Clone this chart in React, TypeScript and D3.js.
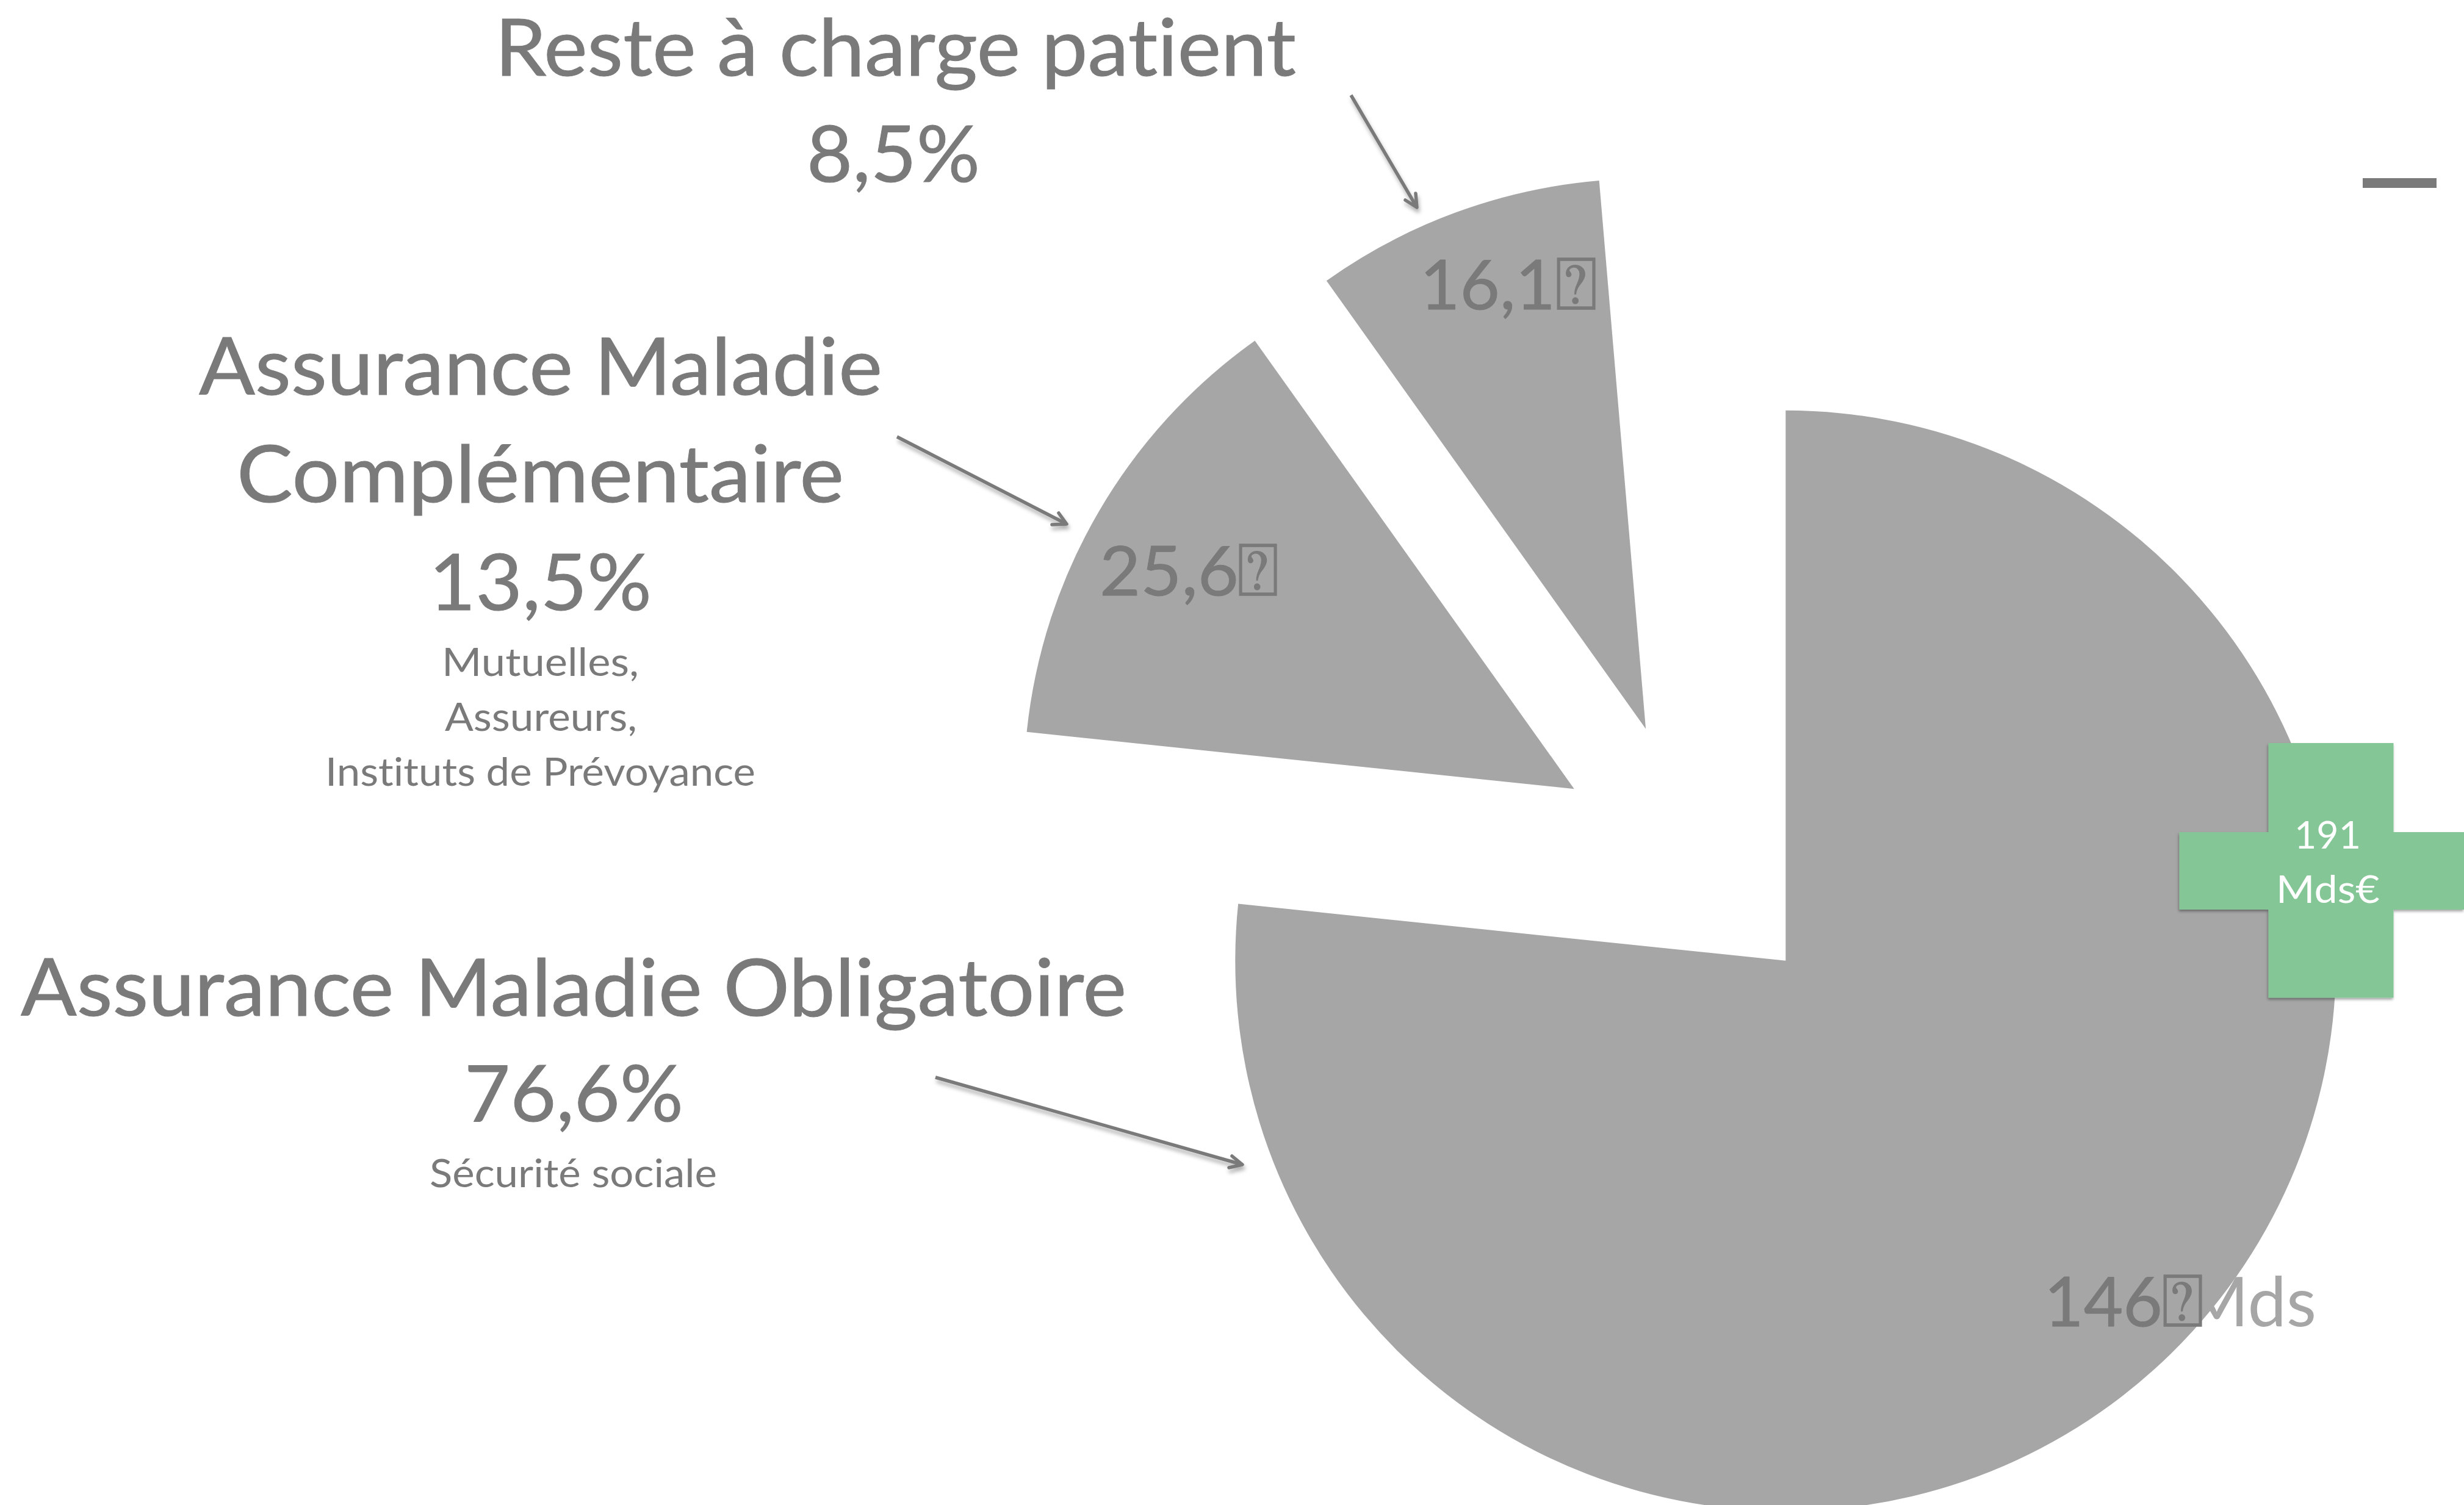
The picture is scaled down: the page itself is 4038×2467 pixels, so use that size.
import React from "react";
import * as d3 from "d3";

// ---- data ----
const sliceNames = ["Assurance Maladie Obligatoire", "Assurance Maladie Complémentaire", "Reste à charge patient", "Autres"];
const sliceShares = [76.65, 13.5, 8.5, 1.35];
const sliceFills = ["#a6a6a6", "#a6a6a6", "#a6a6a6", "#ffffff"];
const totalLines = ["191", "Mds€"];
const missingGlyph = "⍰";

// ---- layout ----
const W = 4038;
const H = 2467;
const CX = 2775;
const CY = 1407;
const R = 902;
const EXPLODE = 226;
const GREY = "#7a7a7a";
const PIE = "#a6a6a6";
const FONT = "Lato, 'Open Sans', sans-serif";
const BOX = "'DejaVu Sans'";

type T = { t: string; x0: number; x1: number; y: number; s: number; fill?: string; font?: string; w?: number };

const labels: T[] = [
  { t: "Mds", x0: 3580, x1: 3796, y: 2174, s: 113, fill: PIE },
  { t: "Reste à charge patient", x0: 811, x1: 2124, y: 124, s: 130, w: 1 },
  { t: "8,5%", x0: 1322, x1: 1606, y: 298, s: 128, w: 1 },
  { t: "Assurance Maladie", x0: 326, x1: 1446, y: 647, s: 130, w: 1 },
  { t: "Complémentaire", x0: 388, x1: 1383, y: 823, s: 130, w: 1 },
  { t: "13,5%", x0: 703, x1: 1068, y: 1000, s: 128, w: 1 },
  { t: "Mutuelles,", x0: 724, x1: 1047, y: 1108, s: 64 },
  { t: "Assureurs,", x0: 729, x1: 1044, y: 1198, s: 64 },
  { t: "Instituts de Prévoyance", x0: 533, x1: 1238, y: 1288, s: 64 },
  { t: "Assurance Maladie Obligatoire", x0: 34, x1: 1846, y: 1665, s: 130, w: 1 },
  { t: "76,6%", x0: 761, x1: 1120, y: 1838, s: 128, w: 1 },
  { t: "Sécurité sociale", x0: 704, x1: 1175, y: 1946, s: 64 },
  { t: "25,6", x0: 1802, x1: 2030, y: 976, s: 113, w: 1 },
  { t: missingGlyph, x0: 2027, x1: 2096, y: 976, s: 122, font: BOX, w: 1.5 },
  { t: "16,1", x0: 2327, x1: 2549, y: 507, s: 113, w: 1 },
  { t: missingGlyph, x0: 2548, x1: 2618, y: 507, s: 122, font: BOX, w: 1.5 },
  { t: "146", x0: 3350, x1: 3544, y: 2174, s: 113, w: 1 },
  { t: missingGlyph, x0: 3542, x1: 3612, y: 2174, s: 122, font: BOX, w: 1.5 },
  { t: totalLines[0], x0: 3760, x1: 3869, y: 1391, s: 62, fill: "#ffffff" },
  { t: totalLines[1], x0: 3730, x1: 3900, y: 1480, s: 62, fill: "#ffffff" },
];

const arrows: [number, number, number, number, number, number, number, number][] = [
  [2214, 156, 2322, 340, 2303, 328, 2320, 317],
  [1470, 716, 1748, 859, 1735, 841, 1724, 860],
  [1533, 1766, 2036, 1909, 2019, 1895, 2014, 1914],
];

const App = () => {
  const pie = d3.pie<number>().sort(null).value((d) => d);
  const arc = d3.arc<d3.PieArcDatum<number>>().innerRadius(0).outerRadius(R);
  const arcs = pie(sliceShares);

  const line = d3.line();

  return (
    <svg
      width={W}
      height={H}
      viewBox={`0 0 ${W} ${H}`}
      style={{ position: "absolute", left: 0, top: 0, display: "block", background: "#fff" }}
    >
      <defs>
        <filter id="lineShadow" x="-20%" y="-20%" width="140%" height="140%">
          <feDropShadow dx="2" dy="6" stdDeviation="3" floodColor="#000" floodOpacity="0.3" />
        </filter>
        <filter id="crossShadow" x="-5%" y="-5%" width="110%" height="110%">
          <feDropShadow dx="-1" dy="3" stdDeviation="2" floodColor="#000" floodOpacity="0.35" />
        </filter>
      </defs>

      <g>
        {arcs.map((d, i) => {
          const mid = (d.startAngle + d.endAngle) / 2;
          const dx = EXPLODE * Math.sin(mid);
          const dy = -EXPLODE * Math.cos(mid);
          return (
            <path
              key={sliceNames[i]}
              d={arc(d) as string}
              transform={`translate(${CX + dx},${CY + dy})`}
              fill={sliceFills[i]}
            >
              <title>{sliceNames[i]}</title>
            </path>
          );
        })}
      </g>

      <path
        d="M3717.5 1218H3922.5V1364H4038V1491H3922.5V1635.5H3717.5V1491H3571.5V1364H3717.5Z"
        fill="#85c696"
        filter="url(#crossShadow)"
      />

      <rect x={3872} y={292} width={121} height={16} fill={GREY} />

      <g fill="none" stroke={GREY} strokeWidth={5.5} strokeLinecap="round" strokeLinejoin="round" filter="url(#lineShadow)">
        {arrows.map((a, i) => (
          <g key={i}>
            <path d={line([[a[0], a[1]], [a[2], a[3]]]) as string} strokeLinecap="butt" />
            <path d={line([[a[4], a[5]], [a[2], a[3]], [a[6], a[7]]]) as string} />
          </g>
        ))}
      </g>

      <g style={{ fontVariantLigatures: "none" }}>
        {labels.map((l, i) => (
          <text
            key={i}
            x={l.x0}
            y={l.y}
            fontFamily={l.font ?? FONT}
            fontSize={l.s}
            fill={l.fill ?? GREY}
            stroke={l.w ? (l.fill ?? GREY) : "none"}
            strokeWidth={l.w ?? 0}
            textLength={l.x1 - l.x0}
            lengthAdjust="spacingAndGlyphs"
          >
            {l.t}
          </text>
        ))}
      </g>
    </svg>
  );
};

export default App;
